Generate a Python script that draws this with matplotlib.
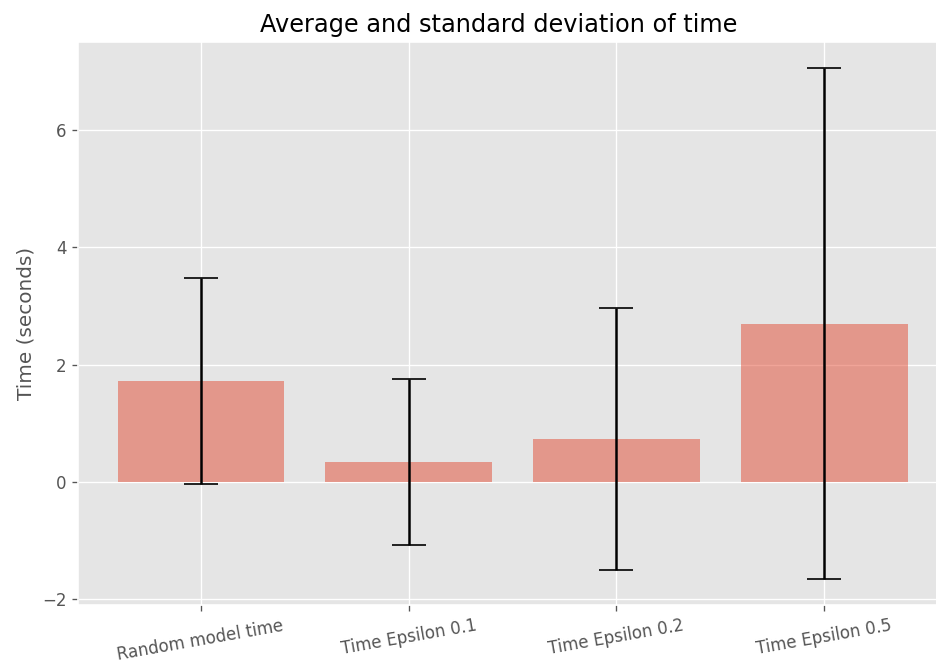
import matplotlib
matplotlib.use("Agg")
import matplotlib.pyplot as plt
import numpy as np

plt.style.use("ggplot")

labels = ["Random model time", "Time Epsilon 0.1", "Time Epsilon 0.2", "Time Epsilon 0.5"]
means = [1.72, 0.34, 0.73, 2.70]
stds = [1.75, 1.41, 2.23, 4.36]

fig = plt.figure(figsize=(7.8, 669/120), dpi=120)
ax = fig.add_axes([78/936, 1-605/669, (947-78)/936, (605-42)/669])
x = np.arange(len(labels))
ax.bar(x, means, yerr=stds, align="center", alpha=0.5, ecolor="black", capsize=10)
ax.set_ylabel("Time (seconds)")
ax.set_xticks(x)
ax.set_xticklabels(labels, rotation=10)
ax.set_title("Average and standard deviation of time", x=0.484)
ax.yaxis.grid(True)
fig.savefig("out.png", dpi=120)
